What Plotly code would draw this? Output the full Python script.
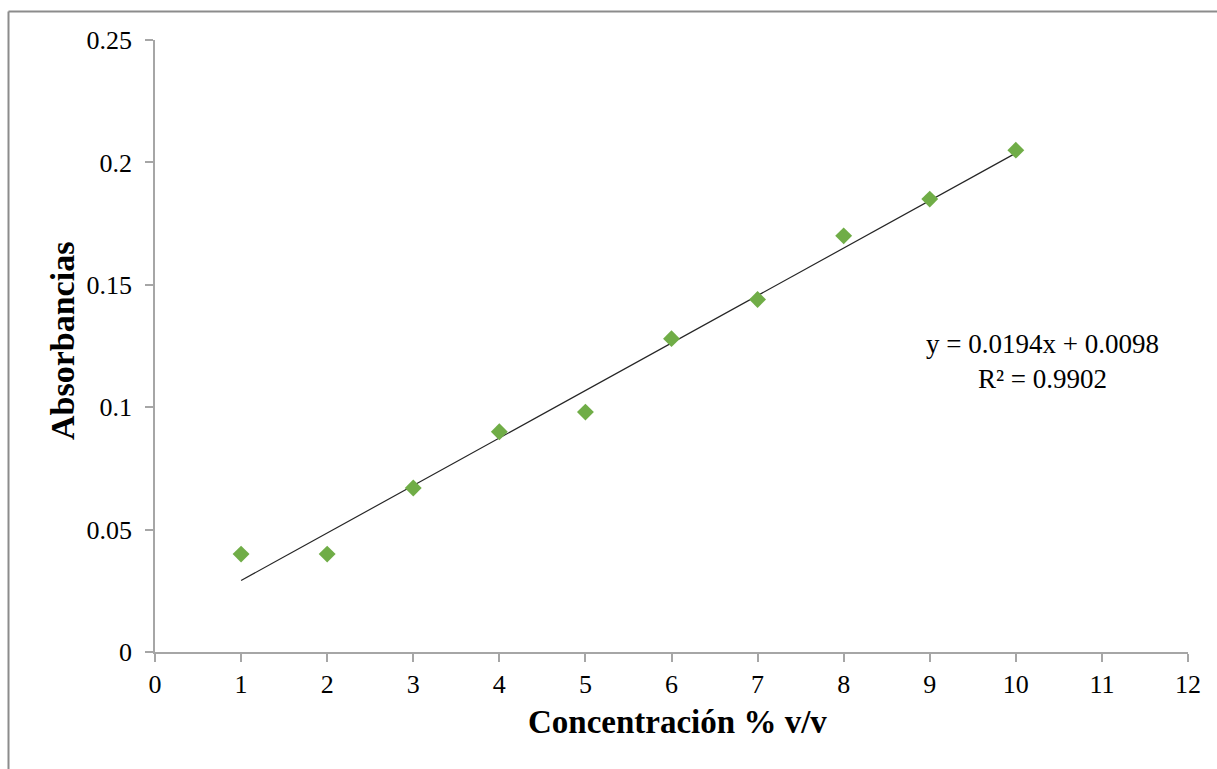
import plotly.graph_objects as go

# Data
concentracion = [1, 2, 3, 4, 5, 6, 7, 8, 9, 10]
absorbancia = [0.040, 0.040, 0.067, 0.090, 0.098, 0.128, 0.144, 0.170, 0.185, 0.205]
x_ticks = [0, 1, 2, 3, 4, 5, 6, 7, 8, 9, 10, 11, 12]
y_ticks = [0, 0.05, 0.1, 0.15, 0.2, 0.25]
y_tick_labels = ["0", "0.05", "0.1", "0.15", "0.2", "0.25"]
slope = 0.0194
intercept = 0.0098
eq_text = "y = 0.0194x + 0.0098<br>R² = 0.9902"

trend_x = [min(concentracion), max(concentracion)]
trend_y = [slope * v + intercept for v in trend_x]

FONT = "Liberation Serif, Times New Roman, serif"
AXIS_COLOR = "#A6A6A6"

fig = go.Figure()
fig.add_trace(go.Scatter(
    x=trend_x, y=trend_y, mode="lines",
    line=dict(color="#262626", width=1.2), hoverinfo="skip", showlegend=False))
fig.add_trace(go.Scatter(
    x=concentracion, y=absorbancia, mode="markers",
    marker=dict(symbol="diamond", size=13, color="#70AD47"),
    showlegend=False))

W, H = 1217, 769
L, R, T, B = 155, 29, 40, 117
pw, ph = W - L - R, H - T - B

def px(xp):
    return (xp - L) / pw

def py(yp):
    return (H - B - yp) / ph

fig.update_layout(
    width=W, height=H,
    margin=dict(l=L, r=R, t=T, b=B),
    paper_bgcolor="white", plot_bgcolor="white",
    font=dict(family=FONT, size=26, color="black"),
    xaxis=dict(range=[0, 12], tickvals=x_ticks, showgrid=False, zeroline=False,
               showline=True, linecolor=AXIS_COLOR, linewidth=1.5,
               ticks="outside", ticklen=8, tickcolor=AXIS_COLOR, tickwidth=1.5,
               tickfont=dict(family=FONT, size=26, color="black")),
    yaxis=dict(range=[0, 0.25], tickvals=y_ticks, ticktext=y_tick_labels,
               showgrid=False, zeroline=False,
               showline=True, linecolor=AXIS_COLOR, linewidth=1.5,
               ticks="outside", ticklen=8, tickcolor=AXIS_COLOR, tickwidth=1.5,
               ticklabelstandoff=8,
               tickfont=dict(family=FONT, size=26, color="black")),
    annotations=[
        dict(text="<b>Concentración % v/v</b>", xref="paper", yref="paper",
             x=px(677), y=py(722), xanchor="center", yanchor="middle",
             showarrow=False, font=dict(family=FONT, size=33, color="black")),
        dict(text="<b>Absorbancias</b>", xref="paper", yref="paper",
             x=px(62), y=py(341), xanchor="center", yanchor="middle", textangle=-90,
             showarrow=False, font=dict(family=FONT, size=34, color="black")),
        dict(text=eq_text, xref="paper", yref="paper",
             x=px(1042), y=py(361), xanchor="center", yanchor="middle", align="center",
             showarrow=False, font=dict(family=FONT, size=27, color="black")),
    ],
    shapes=[
        dict(type="line", xref="paper", yref="paper", x0=px(8.5), x1=px(W + 5),
             y0=py(11.5), y1=py(11.5), line=dict(color="#8C8C8C", width=2)),
        dict(type="line", xref="paper", yref="paper", x0=px(8.5), x1=px(8.5),
             y0=py(11.5), y1=py(H + 5), line=dict(color="#8C8C8C", width=2)),
    ],
)

fig.write_html("out.html", config={"displayModeBar": False},
               post_script="document.body.style.margin='0';")
